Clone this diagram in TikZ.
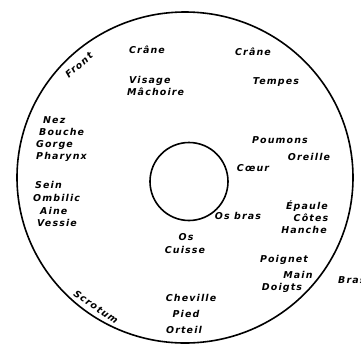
\documentclass[tikz,border=0pt]{standalone}
\usepackage{fontspec}
\newfontfamily\handfont[LetterSpace=12]{DejaVu Sans}
\begin{document}
\begin{tikzpicture}[x=1bp,y=-1bp,
  lbl/.style={font=\handfont\bfseries\itshape\fontsize{9.5}{11}\selectfont, inner sep=0pt},
  lw/.style={lbl, anchor=west},
  ring/.style={line width=1.6bp}]
\useasboundingbox (0,0) rectangle (361,346);
\fill[white] (0,0) rectangle (361,346);
\draw[ring] (185,177.5) ellipse [x radius=168, y radius=165.5];
\draw[ring] (189,181.5) circle [radius=39];
% top
\node[lbl, rotate=41] (front) at (79,65) {Front};
\node[lbl] (crane1) at (147,50) {Crâne};
\node[lw] (visage) at (129,81) {Visage};
\node[lw] (machoire) at (127,92) {Mâchoire};
\node[lbl] (crane2) at (253,52) {Crâne};
\node[lbl] (tempes) at (276,82) {Tempes};
% left column
\node[lw] (nez) at (43,120) {Nez};
\node[lw] (bouche) at (39,132) {Bouche};
\node[lw] (gorge) at (36,145) {Gorge};
\node[lw] (pharynx) at (36,157) {Pharynx};
\node[lw] (sein) at (35,185) {Sein};
\node[lw] (ombilic) at (33,198) {Ombilic};
\node[lw] (aine) at (40,211) {Aine};
\node[lw] (vessie) at (37,223) {Vessie};
% right
\node[lbl] (poumons) at (280,140) {Poumons};
\node[lbl] (oreille) at (309,157) {Oreille};
\node[lbl] (coeur) at (253,168) {Cœur};
\node[lbl] (osbras) at (238,216) {Os bras};
\node[lbl] (epaule) at (307,206) {Épaule};
\node[lbl] (cotes) at (311,218) {Côtes};
\node[lbl] (hanche) at (304,230) {Hanche};
\node[lbl] (poignet) at (284,260) {Poignet};
\node[lbl] (main) at (298,275) {Main};
\node[lbl] (doigts) at (282,288) {Doigts};
\node[lw] (bras) at (338,280) {Bras};
% bottom
\node[lbl] (os) at (186,237) {Os};
\node[lbl] (cuisse) at (185,250) {Cuisse};
\node[lbl] (cheville) at (191,298) {Cheville};
\node[lbl] (pied) at (186,314) {Pied};
\node[lbl] (orteil) at (184,330) {Orteil};
\node[lbl, rotate=-35] (scrotum) at (96,307) {Scrotum};
\end{tikzpicture}
\end{document}
